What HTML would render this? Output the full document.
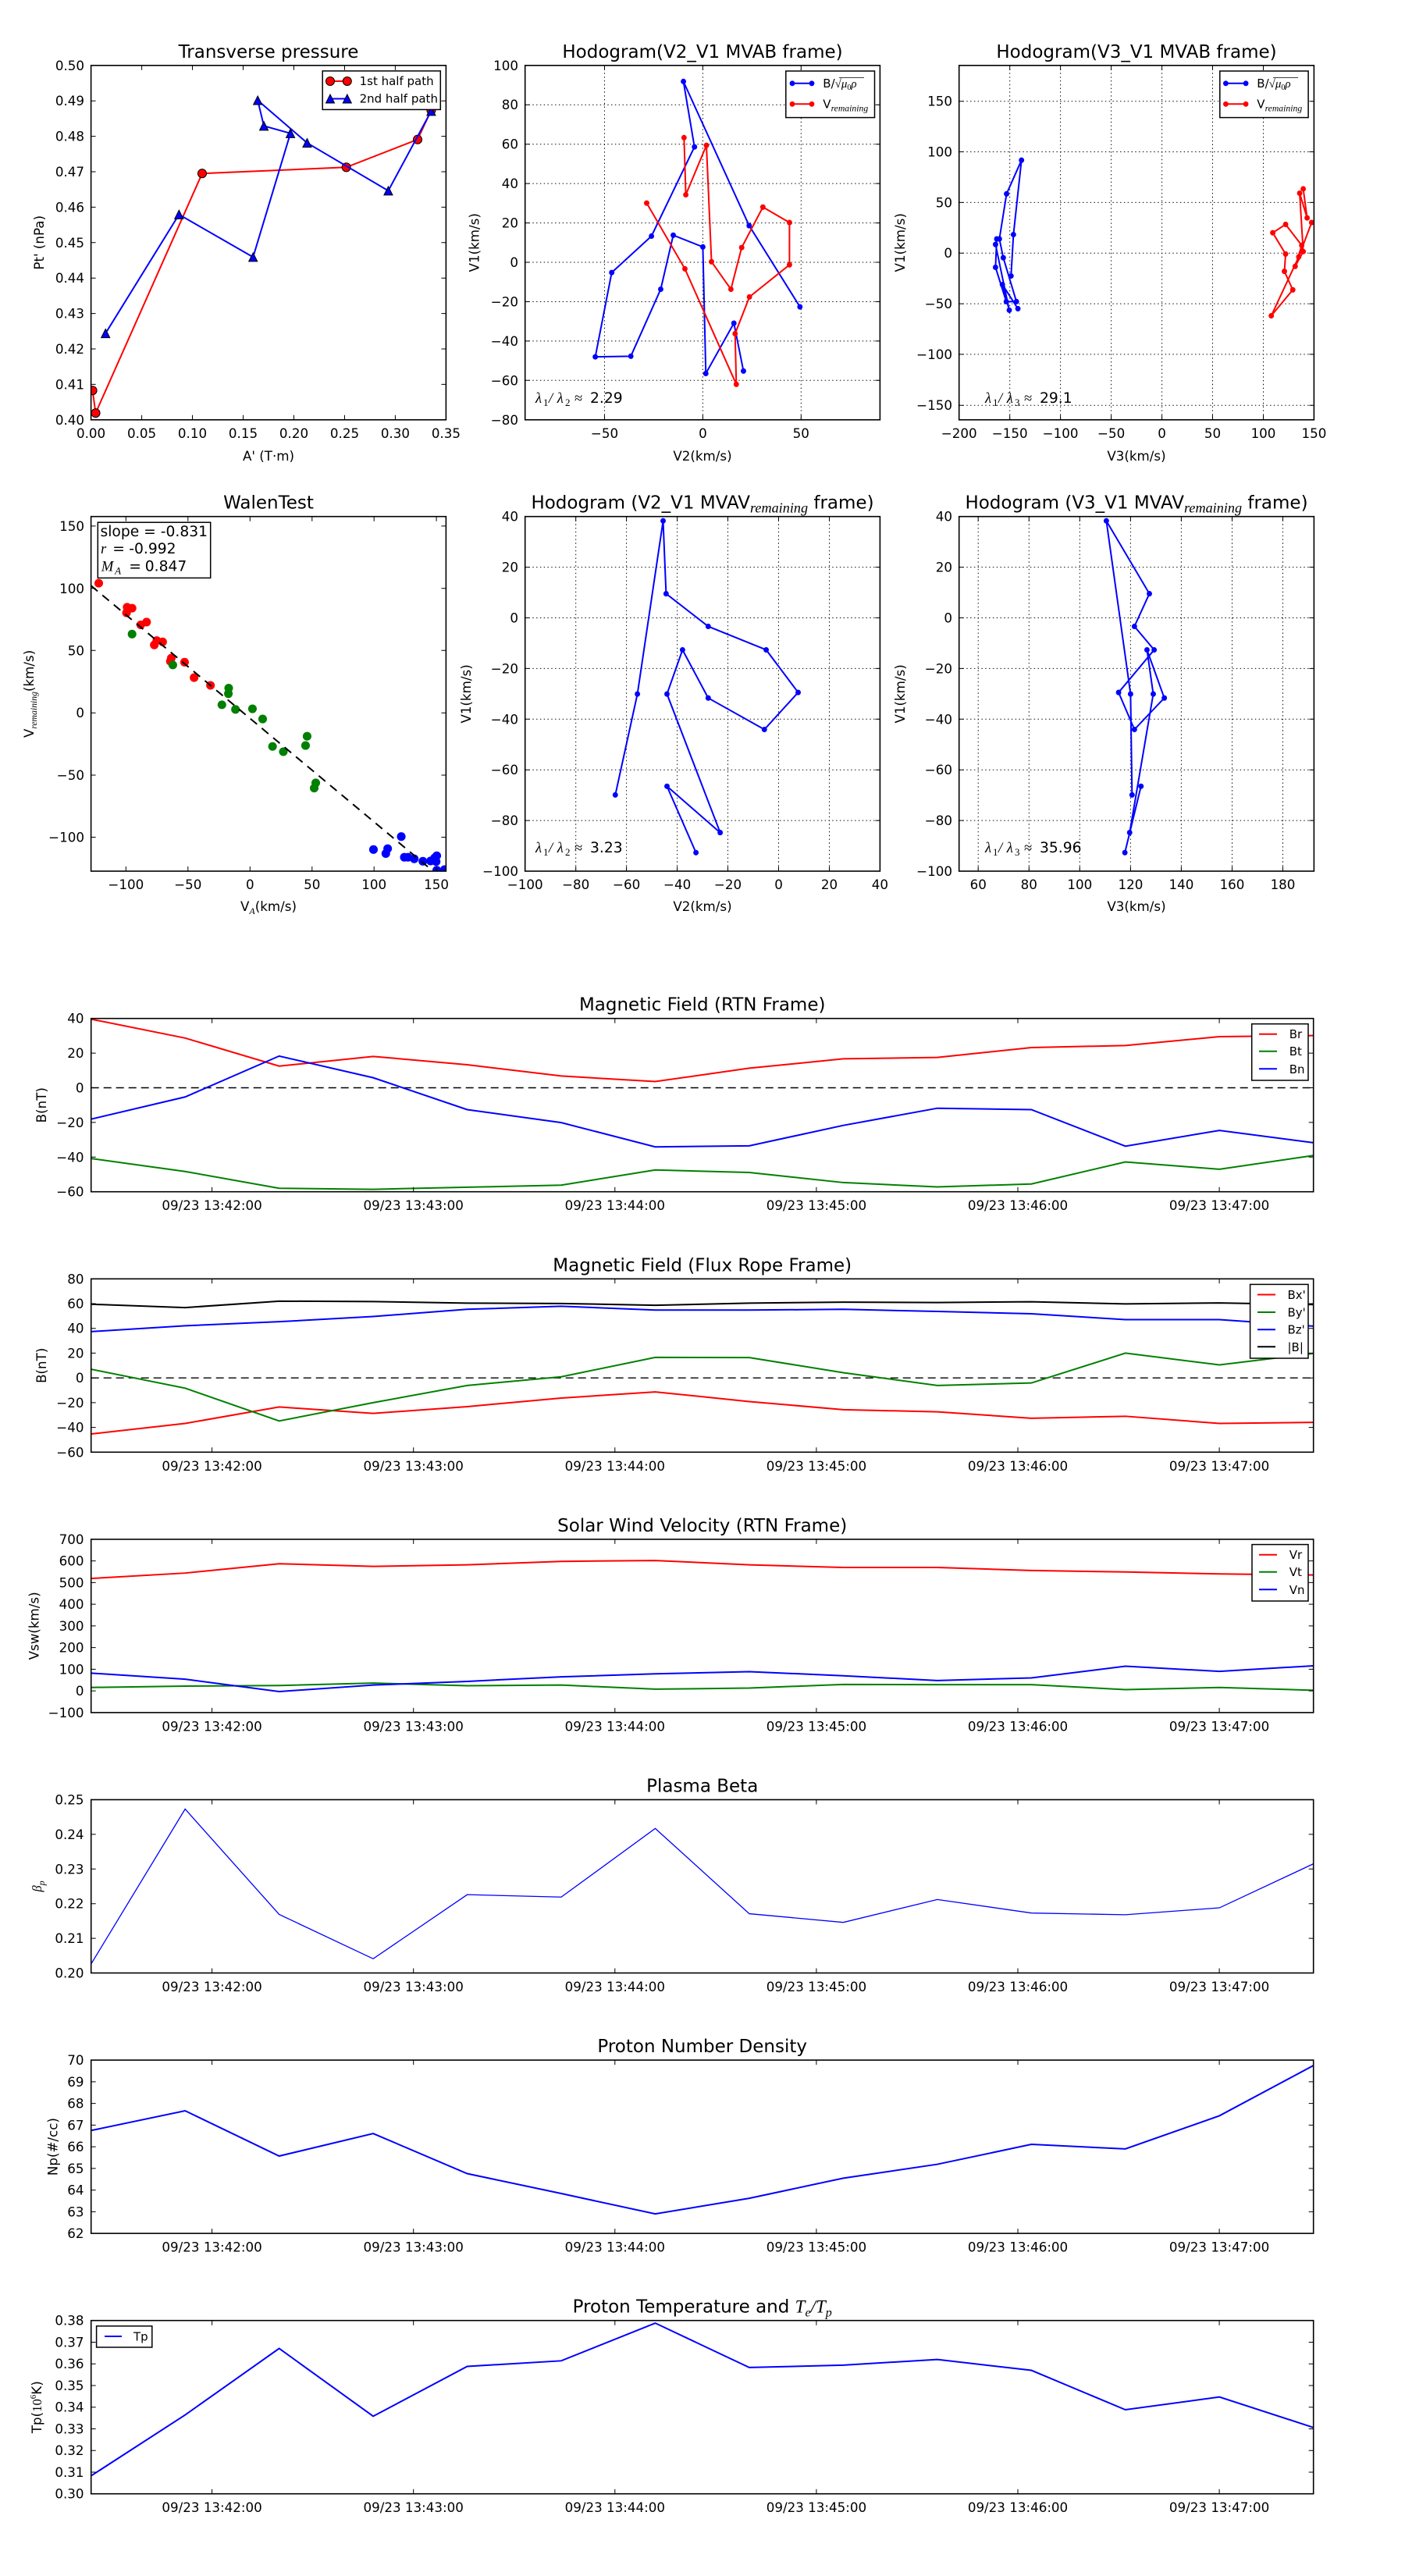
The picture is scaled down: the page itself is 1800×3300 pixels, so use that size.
<!DOCTYPE html>
<html><head><meta charset="utf-8"><title>chart</title>
<style>
html,body{margin:0;padding:0;background:#fff;}
svg{display:block;}
text{font-family:"DejaVu Sans","Liberation Sans",sans-serif;fill:#000;}
.t{font-size:23px;text-anchor:middle;}
.xl{font-size:16.7px;text-anchor:middle;}
.yl{font-size:16.7px;text-anchor:end;}
.lab{font-size:16.7px;text-anchor:middle;}
.lg{font-size:15px;}
.m{font-family:"Liberation Serif","DejaVu Serif",serif;font-style:italic;}
.r{font-family:"Liberation Serif","DejaVu Serif",serif;}
.in *{vector-effect:non-scaling-stroke;}
.sp{fill:none;stroke:#000;stroke-width:1.6;}
.tk{fill:none;stroke:#000;stroke-width:1;}
.gd{fill:none;stroke:#000;stroke-width:1;stroke-dasharray:1.4 3.4;}
.box{fill:#fff;stroke:#000;stroke-width:1.5;}
</style></head><body>
<svg width="1800" height="3300" viewBox="0 0 1800 3300" xmlns="http://www.w3.org/2000/svg">
<rect width="1800" height="3300" fill="#fff"/>

<!-- ============ Panel 1: Transverse pressure ============ -->
<text class="t" x="344" y="74">Transverse pressure</text>
<svg class="in" x="116.6" y="83.8" width="454.8" height="454" viewBox="295 212 1150 1148" preserveAspectRatio="none">
<polyline points="300,1265 310,1338 655,562 1122,542 1353,452 1397,357" fill="none" stroke="#f00" stroke-width="2"/>
<g fill="#f00" stroke="#000" stroke-width="1">
<circle cx="300" cy="1265" r="14"/><circle cx="310" cy="1338" r="14"/><circle cx="655" cy="562" r="14"/><circle cx="1122" cy="542" r="14"/><circle cx="1353" cy="452" r="14"/><circle cx="1397" cy="357" r="14"/>
</g>
<polyline points="342,1080 580,695 820,833 941,432 855,408 835,325 995,463 1258,618 1397,360" fill="none" stroke="#00f" stroke-width="2"/>
<g fill="#00f" stroke="#000" stroke-width="1">
<path d="M342,1066l14,28h-28z"/><path d="M580,681l14,28h-28z"/><path d="M820,819l14,28h-28z"/><path d="M941,418l14,28h-28z"/><path d="M855,394l14,28h-28z"/><path d="M835,311l14,28h-28z"/><path d="M995,449l14,28h-28z"/><path d="M1258,604l14,28h-28z"/><path d="M1397,346l14,28h-28z"/>
</g>
</svg>
<rect class="sp" x="116.6" y="83.8" width="454.8" height="454"/>
<path class="tk" d="M181.6 537.8v-6M246.5 537.8v-6M311.5 537.8v-6M376.5 537.8v-6M441.5 537.8v-6M506.4 537.8v-6M181.6 83.8v6M246.5 83.8v6M311.5 83.8v6M376.5 83.8v6M441.5 83.8v6M506.4 83.8v6M116.6 492.4h6M116.6 447h6M116.6 401.6h6M116.6 356.2h6M116.6 310.8h6M116.6 265.4h6M116.6 220h6M116.6 174.6h6M116.6 129.2h6M571.4 492.4h-6M571.4 447h-6M571.4 401.6h-6M571.4 356.2h-6M571.4 310.8h-6M571.4 265.4h-6M571.4 220h-6M571.4 174.6h-6M571.4 129.2h-6"/>
<g class="xl"><text x="116.6" y="561">0.00</text><text x="181.6" y="561">0.05</text><text x="246.5" y="561">0.10</text><text x="311.5" y="561">0.15</text><text x="376.5" y="561">0.20</text><text x="441.5" y="561">0.25</text><text x="506.4" y="561">0.30</text><text x="571.4" y="561">0.35</text></g>
<g class="yl"><text x="108" y="543.8">0.40</text><text x="108" y="498.4">0.41</text><text x="108" y="453">0.42</text><text x="108" y="407.6">0.43</text><text x="108" y="362.2">0.44</text><text x="108" y="316.8">0.45</text><text x="108" y="271.4">0.46</text><text x="108" y="226">0.47</text><text x="108" y="180.6">0.48</text><text x="108" y="135.2">0.49</text><text x="108" y="89.8">0.50</text></g>
<text class="lab" x="344" y="590">A' (T·m)</text>
<text class="lab" transform="translate(56,310.8) rotate(-90)">Pt' (nPa)</text>
<rect class="box" x="413.2" y="90.9" width="151.1" height="49.5"/>
<line x1="423" y1="104" x2="444.8" y2="104" stroke="#f00" stroke-width="2"/>
<circle cx="423" cy="104" r="5.5" fill="#f00" stroke="#000"/><circle cx="444.8" cy="104" r="5.5" fill="#f00" stroke="#000"/>
<text class="lg" x="460.6" y="109.2">1st half path</text>
<line x1="423" y1="126.5" x2="444.8" y2="126.5" stroke="#00f" stroke-width="2"/>
<path d="M423,121l5.5,11h-11z" fill="#00f" stroke="#000"/><path d="M444.8,121l5.5,11h-11z" fill="#00f" stroke="#000"/>
<text class="lg" x="460.6" y="131.7">2nd half path</text>

<!-- ============ Panel 2: Hodogram V2_V1 MVAB ============ -->
<text class="t" x="900" y="74">Hodogram(V2_V1 MVAB frame)</text>
<path class="gd" d="M774.5 83.8V537.8M900.4 83.8V537.8M1026.3 83.8V537.8M672.7 134.2H1127.4M672.7 184.7H1127.4M672.7 235.1H1127.4M672.7 285.6H1127.4M672.7 336H1127.4M672.7 386.5H1127.4M672.7 436.9H1127.4M672.7 487.3H1127.4"/>
<svg class="in" x="672.7" y="83.8" width="454.7" height="454" viewBox="190 212 1188 1148" preserveAspectRatio="none">
<polyline points="921,1202 889,1047 795,1210 785,800 686,762 644,937 544,1154 425,1156 480,883 613,765 757,476 720,264 940,731 1110,994" fill="none" stroke="#00f" stroke-width="2"/>
<g fill="#00f"><circle cx="921" cy="1202" r="9"/><circle cx="889" cy="1047" r="9"/><circle cx="795" cy="1210" r="9"/><circle cx="785" cy="800" r="9"/><circle cx="686" cy="762" r="9"/><circle cx="644" cy="937" r="9"/><circle cx="544" cy="1154" r="9"/><circle cx="425" cy="1156" r="9"/><circle cx="480" cy="883" r="9"/><circle cx="613" cy="765" r="9"/><circle cx="757" cy="476" r="9"/><circle cx="720" cy="264" r="9"/><circle cx="940" cy="731" r="9"/><circle cx="1110" cy="994" r="9"/></g>
<polyline points="722,446 728,631 797,471 814,848 879,937 915,802 986,671 1075,721 1075,858 941,962 893,1081 897,1245 725,871 597,658" fill="none" stroke="#f00" stroke-width="2"/>
<g fill="#f00"><circle cx="722" cy="446" r="9"/><circle cx="728" cy="631" r="9"/><circle cx="797" cy="471" r="9"/><circle cx="814" cy="848" r="9"/><circle cx="879" cy="937" r="9"/><circle cx="915" cy="802" r="9"/><circle cx="986" cy="671" r="9"/><circle cx="1075" cy="721" r="9"/><circle cx="1075" cy="858" r="9"/><circle cx="941" cy="962" r="9"/><circle cx="893" cy="1081" r="9"/><circle cx="897" cy="1245" r="9"/><circle cx="725" cy="871" r="9"/><circle cx="597" cy="658" r="9"/></g>
</svg>
<rect class="sp" x="672.7" y="83.8" width="454.7" height="454"/>
<path class="tk" d="M774.5 537.8v-6M900.4 537.8v-6M1026.3 537.8v-6M774.5 83.8v6M900.4 83.8v6M1026.3 83.8v6M672.7 134.2h6M672.7 184.7h6M672.7 235.1h6M672.7 285.6h6M672.7 336h6M672.7 386.5h6M672.7 436.9h6M672.7 487.3h6M1127.4 134.2h-6M1127.4 184.7h-6M1127.4 235.1h-6M1127.4 285.6h-6M1127.4 336h-6M1127.4 386.5h-6M1127.4 436.9h-6M1127.4 487.3h-6"/>
<g class="xl"><text x="774.5" y="561">−50</text><text x="900.4" y="561">0</text><text x="1026.3" y="561">50</text></g>
<g class="yl"><text x="664" y="89.8">100</text><text x="664" y="140.2">80</text><text x="664" y="190.7">60</text><text x="664" y="241.1">40</text><text x="664" y="291.6">20</text><text x="664" y="342">0</text><text x="664" y="392.5">−20</text><text x="664" y="442.9">−40</text><text x="664" y="493.3">−60</text><text x="664" y="543.8">−80</text></g>
<text class="lab" x="900" y="590">V2(km/s)</text>
<text class="lab" transform="translate(613.5,310.8) rotate(-90)">V1(km/s)</text>
<text y="516" font-size="18.7"><tspan x="686" class="m">λ</tspan><tspan x="696" dy="4" font-size="13" class="r">1</tspan><tspan x="703" dy="-4" class="m">/</tspan><tspan x="713.7" class="m">λ</tspan><tspan x="724" dy="4" font-size="13" class="r">2</tspan><tspan x="736" dy="-4" class="r">≈</tspan><tspan x="756">2.29</tspan></text>
<rect class="box" x="1006.8" y="91" width="113.7" height="59.6"/>
<line x1="1015" y1="106.8" x2="1040" y2="106.8" stroke="#00f" stroke-width="2"/>
<circle cx="1015" cy="106.8" r="3.4" fill="#00f"/><circle cx="1040" cy="106.8" r="3.4" fill="#00f"/>
<text class="lg" x="1054.3" y="112">B/<tspan class="r">√</tspan><tspan class="m">μ</tspan><tspan class="r" font-size="10" dy="3">0</tspan><tspan class="m" dy="-3">ρ</tspan></text>
<line x1="1075" y1="99.5" x2="1107" y2="99.5" stroke="#000" stroke-width="0.8"/>
<line x1="1015" y1="133.3" x2="1040" y2="133.3" stroke="#f00" stroke-width="2"/>
<circle cx="1015" cy="133.3" r="3.4" fill="#f00"/><circle cx="1040" cy="133.3" r="3.4" fill="#f00"/>
<text class="lg" x="1054.3" y="138.5">V<tspan class="m" font-size="11.7" dy="4">remaining</tspan></text>

<!-- ============ Panel 3: Hodogram V3_V1 MVAB ============ -->
<text class="t" x="1456" y="74">Hodogram(V3_V1 MVAB frame)</text>
<path class="gd" d="M1293.7 83.8V537.8M1358.6 83.8V537.8M1423.6 83.8V537.8M1488.6 83.8V537.8M1553.5 83.8V537.8M1618.5 83.8V537.8M1228.7 129.7H1683.4M1228.7 194.5H1683.4M1228.7 259.4H1683.4M1228.7 324.2H1683.4M1228.7 389.1H1683.4M1228.7 453.9H1683.4M1228.7 519.2H1683.4"/>
<svg class="in" x="1228.7" y="83.8" width="454.7" height="454" viewBox="75 212 1188 1148" preserveAspectRatio="none">
<polyline points="272,1000 220,922 243,1005 197,792 201,774 197,866 233,977 267,977 223,835 210,774 234,628 284,519 257,760 249,894" fill="none" stroke="#00f" stroke-width="2"/>
<g fill="#00f"><circle cx="272" cy="1000" r="9"/><circle cx="220" cy="922" r="9"/><circle cx="243" cy="1005" r="9"/><circle cx="197" cy="792" r="9"/><circle cx="201" cy="774" r="9"/><circle cx="197" cy="866" r="9"/><circle cx="233" cy="977" r="9"/><circle cx="267" cy="977" r="9"/><circle cx="223" cy="835" r="9"/><circle cx="210" cy="774" r="9"/><circle cx="234" cy="628" r="9"/><circle cx="284" cy="519" r="9"/><circle cx="257" cy="760" r="9"/><circle cx="249" cy="894" r="9"/></g>
<polyline points="1227,612 1240,706 1215,626 1227,815 1200,863 1222,795 1168,727 1125,754 1168,823 1164,879 1192,939 1120,1023 1212,832 1255,721" fill="none" stroke="#f00" stroke-width="2"/>
<g fill="#f00"><circle cx="1227" cy="612" r="9"/><circle cx="1240" cy="706" r="9"/><circle cx="1215" cy="626" r="9"/><circle cx="1227" cy="815" r="9"/><circle cx="1200" cy="863" r="9"/><circle cx="1222" cy="795" r="9"/><circle cx="1168" cy="727" r="9"/><circle cx="1125" cy="754" r="9"/><circle cx="1168" cy="823" r="9"/><circle cx="1164" cy="879" r="9"/><circle cx="1192" cy="939" r="9"/><circle cx="1120" cy="1023" r="9"/><circle cx="1212" cy="832" r="9"/><circle cx="1255" cy="721" r="9"/></g>
</svg>
<rect class="sp" x="1228.7" y="83.8" width="454.7" height="454"/>
<path class="tk" d="M1293.7 537.8v-6M1358.6 537.8v-6M1423.6 537.8v-6M1488.6 537.8v-6M1553.5 537.8v-6M1618.5 537.8v-6M1293.7 83.8v6M1358.6 83.8v6M1423.6 83.8v6M1488.6 83.8v6M1553.5 83.8v6M1618.5 83.8v6M1228.7 129.7h6M1228.7 194.5h6M1228.7 259.4h6M1228.7 324.2h6M1228.7 389.1h6M1228.7 453.9h6M1228.7 519.2h6M1683.4 129.7h-6M1683.4 194.5h-6M1683.4 259.4h-6M1683.4 324.2h-6M1683.4 389.1h-6M1683.4 453.9h-6M1683.4 519.2h-6"/>
<g class="xl"><text x="1228.7" y="561">−200</text><text x="1293.7" y="561">−150</text><text x="1358.6" y="561">−100</text><text x="1423.6" y="561">−50</text><text x="1488.6" y="561">0</text><text x="1553.5" y="561">50</text><text x="1618.5" y="561">100</text><text x="1683.4" y="561">150</text></g>
<g class="yl"><text x="1220" y="135.7">150</text><text x="1220" y="200.5">100</text><text x="1220" y="265.4">50</text><text x="1220" y="330.2">0</text><text x="1220" y="395.1">−50</text><text x="1220" y="459.9">−100</text><text x="1220" y="525.2">−150</text></g>
<text class="lab" x="1456" y="590">V3(km/s)</text>
<text class="lab" transform="translate(1159,310.8) rotate(-90)">V1(km/s)</text>
<text y="516" font-size="18.7"><tspan x="1262" class="m">λ</tspan><tspan x="1272" dy="4" font-size="13" class="r">1</tspan><tspan x="1279" dy="-4" class="m">/</tspan><tspan x="1289.7" class="m">λ</tspan><tspan x="1300" dy="4" font-size="13" class="r">3</tspan><tspan x="1312" dy="-4" class="r">≈</tspan><tspan x="1332">29.1</tspan></text>
<rect class="box" x="1562.8" y="91" width="113.3" height="59.6"/>
<line x1="1570.4" y1="106.8" x2="1596.1" y2="106.8" stroke="#00f" stroke-width="2"/>
<circle cx="1570.4" cy="106.8" r="3.4" fill="#00f"/><circle cx="1596.1" cy="106.8" r="3.4" fill="#00f"/>
<text class="lg" x="1610.3" y="112">B/<tspan class="r">√</tspan><tspan class="m">μ</tspan><tspan class="r" font-size="10" dy="3">0</tspan><tspan class="m" dy="-3">ρ</tspan></text>
<line x1="1631" y1="99.5" x2="1663" y2="99.5" stroke="#000" stroke-width="0.8"/>
<line x1="1570.4" y1="133.3" x2="1596.1" y2="133.3" stroke="#f00" stroke-width="2"/>
<circle cx="1570.4" cy="133.3" r="3.4" fill="#f00"/><circle cx="1596.1" cy="133.3" r="3.4" fill="#f00"/>
<text class="lg" x="1610.3" y="138.5">V<tspan class="m" font-size="11.7" dy="4">remaining</tspan></text>

<!-- ============ Panel 4: WalenTest ============ -->
<text class="t" x="344" y="651.5">WalenTest</text>
<svg class="in" x="116.6" y="661.7" width="454.8" height="454.3" viewBox="295 156 1150 1149" preserveAspectRatio="none">
<g fill="#f00"><circle cx="320" cy="372" r="14"/><circle cx="412" cy="450" r="14"/><circle cx="410" cy="468" r="14"/><circle cx="428" cy="453" r="14"/><circle cx="456" cy="507" r="14"/><circle cx="475" cy="498" r="14"/><circle cx="500" cy="572" r="14"/><circle cx="508" cy="558" r="14"/><circle cx="527" cy="562" r="14"/><circle cx="555" cy="615" r="14"/><circle cx="552" cy="625" r="14"/><circle cx="598" cy="628" r="14"/><circle cx="629" cy="678" r="14"/><circle cx="682" cy="703" r="14"/></g>
<g fill="#008000"><circle cx="428" cy="537" r="14"/><circle cx="560" cy="637" r="14"/><circle cx="719" cy="766" r="14"/><circle cx="741" cy="712" r="14"/><circle cx="740" cy="730" r="14"/><circle cx="763" cy="781" r="14"/><circle cx="818" cy="779" r="14"/><circle cx="851" cy="812" r="14"/><circle cx="883" cy="901" r="14"/><circle cx="918" cy="918" r="14"/><circle cx="990" cy="898" r="14"/><circle cx="995" cy="868" r="14"/><circle cx="1018" cy="1036" r="14"/><circle cx="1023" cy="1019" r="14"/></g>
<g fill="#00f"><circle cx="1210" cy="1235" r="14"/><circle cx="1250" cy="1248" r="14"/><circle cx="1256" cy="1232" r="14"/><circle cx="1300" cy="1193" r="14"/><circle cx="1310" cy="1260" r="14"/><circle cx="1322" cy="1260" r="14"/><circle cx="1342" cy="1265" r="14"/><circle cx="1370" cy="1273" r="14"/><circle cx="1395" cy="1272" r="14"/><circle cx="1408" cy="1262" r="14"/><circle cx="1413" cy="1274" r="14"/><circle cx="1415" cy="1255" r="14"/><circle cx="1415" cy="1302" r="14"/><circle cx="1440" cy="1300" r="14"/></g>
</svg>
<line x1="116.6" y1="750.3" x2="549.4" y2="1111.5" stroke="#000" stroke-width="2" stroke-dasharray="11 8"/>
<rect class="sp" x="116.6" y="661.7" width="454.8" height="454.3"/>
<path class="tk" d="M161.3 1116v-6M240.8 1116v-6M320.3 1116v-6M399.8 1116v-6M479.2 1116v-6M559.1 1116v-6M161.3 661.7v6M240.8 661.7v6M320.3 661.7v6M399.8 661.7v6M479.2 661.7v6M559.1 661.7v6M116.6 673.9h6M116.6 753.8h6M116.6 833.3h6M116.6 913.2h6M116.6 993h6M116.6 1072.5h6M571.4 673.9h-6M571.4 753.8h-6M571.4 833.3h-6M571.4 913.2h-6M571.4 993h-6M571.4 1072.5h-6"/>
<g class="xl"><text x="161.3" y="1139">−100</text><text x="240.8" y="1139">−50</text><text x="320.3" y="1139">0</text><text x="399.8" y="1139">50</text><text x="479.2" y="1139">100</text><text x="559.1" y="1139">150</text></g>
<g class="yl"><text x="108" y="679.9">150</text><text x="108" y="759.8">100</text><text x="108" y="839.3">50</text><text x="108" y="919.2">0</text><text x="108" y="999">−50</text><text x="108" y="1078.5">−100</text></g>
<text class="lab" x="344" y="1167">V<tspan class="m" font-size="12" dy="4">A</tspan><tspan dy="-4">(km/s)</tspan></text>
<text class="lab" transform="translate(43,888.9) rotate(-90)">V<tspan class="m" font-size="11.7" dy="4">remaining</tspan><tspan dy="-4">(km/s)</tspan></text>
<rect class="box" x="125.3" y="669.2" width="144.4" height="71.2"/>
<text x="128.5" y="687" font-size="18.7">slope = -0.831</text>
<text y="709.1" font-size="18.7"><tspan x="129" class="m">r</tspan><tspan x="144.3">=</tspan><tspan x="165.3">-0.992</tspan></text>
<text y="731.3" font-size="18.7"><tspan x="129.7" class="m">M</tspan><tspan x="147.1" class="m" font-size="13" dy="4">A</tspan><tspan x="165.3" dy="-4">=</tspan><tspan x="185.8">0.847</tspan></text>

<!-- ============ Panel 5: Hodogram V2_V1 MVAV ============ -->
<text class="t" x="900" y="651.5">Hodogram (V2_V1 MVAV<tspan class="m" font-size="18.2" dy="5">remaining</tspan><tspan dy="-5"> frame)</tspan></text>
<path class="gd" d="M737.7 661.7V1116M802.6 661.7V1116M867.6 661.7V1116M932.5 661.7V1116M997.5 661.7V1116M1062.5 661.7V1116M672.7 726.6H1127.4M672.7 791.5H1127.4M672.7 856.4H1127.4M672.7 921.3H1127.4M672.7 986.2H1127.4M672.7 1051.1H1127.4"/>
<svg class="in" x="672.7" y="661.7" width="454.7" height="454.3" viewBox="190 156 1188 1149" preserveAspectRatio="none">
<polyline points="492,1058 566,731 652,170 662,406 803,512 997,588 1104,726 991,846 803,744 717,588 665,731 843,1180 665,1030 762,1245" fill="none" stroke="#00f" stroke-width="2"/>
<g fill="#00f"><circle cx="492" cy="1058" r="9"/><circle cx="566" cy="731" r="9"/><circle cx="652" cy="170" r="9"/><circle cx="662" cy="406" r="9"/><circle cx="803" cy="512" r="9"/><circle cx="997" cy="588" r="9"/><circle cx="1104" cy="726" r="9"/><circle cx="991" cy="846" r="9"/><circle cx="803" cy="744" r="9"/><circle cx="717" cy="588" r="9"/><circle cx="665" cy="731" r="9"/><circle cx="843" cy="1180" r="9"/><circle cx="665" cy="1030" r="9"/><circle cx="762" cy="1245" r="9"/></g>
</svg>
<rect class="sp" x="672.7" y="661.7" width="454.7" height="454.3"/>
<path class="tk" d="M737.7 1116v-6M802.6 1116v-6M867.6 1116v-6M932.5 1116v-6M997.5 1116v-6M1062.5 1116v-6M737.7 661.7v6M802.6 661.7v6M867.6 661.7v6M932.5 661.7v6M997.5 661.7v6M1062.5 661.7v6M672.7 726.6h6M672.7 791.5h6M672.7 856.4h6M672.7 921.3h6M672.7 986.2h6M672.7 1051.1h6M1127.4 726.6h-6M1127.4 791.5h-6M1127.4 856.4h-6M1127.4 921.3h-6M1127.4 986.2h-6M1127.4 1051.1h-6"/>
<g class="xl"><text x="672.7" y="1139">−100</text><text x="737.7" y="1139">−80</text><text x="802.6" y="1139">−60</text><text x="867.6" y="1139">−40</text><text x="932.5" y="1139">−20</text><text x="997.5" y="1139">0</text><text x="1062.5" y="1139">20</text><text x="1127.4" y="1139">40</text></g>
<g class="yl"><text x="664" y="667.7">40</text><text x="664" y="732.6">20</text><text x="664" y="797.5">0</text><text x="664" y="862.4">−20</text><text x="664" y="927.3">−40</text><text x="664" y="992.2">−60</text><text x="664" y="1057.1">−80</text><text x="664" y="1122">−100</text></g>
<text class="lab" x="900" y="1167">V2(km/s)</text>
<text class="lab" transform="translate(603,888.9) rotate(-90)">V1(km/s)</text>
<text y="1092" font-size="18.7"><tspan x="686" class="m">λ</tspan><tspan x="696" dy="4" font-size="13" class="r">1</tspan><tspan x="703" dy="-4" class="m">/</tspan><tspan x="713.7" class="m">λ</tspan><tspan x="724" dy="4" font-size="13" class="r">2</tspan><tspan x="736" dy="-4" class="r">≈</tspan><tspan x="756">3.23</tspan></text>

<!-- ============ Panel 6: Hodogram V3_V1 MVAV ============ -->
<text class="t" x="1456" y="651.5">Hodogram (V3_V1 MVAV<tspan class="m" font-size="18.2" dy="5">remaining</tspan><tspan dy="-5"> frame)</tspan></text>
<path class="gd" d="M1253.2 661.7V1116M1318.3 661.7V1116M1383.3 661.7V1116M1448.4 661.7V1116M1513.4 661.7V1116M1578.5 661.7V1116M1643.5 661.7V1116M1228.7 726.6H1683.4M1228.7 791.5H1683.4M1228.7 856.4H1683.4M1228.7 921.3H1683.4M1228.7 986.2H1683.4M1228.7 1051.1H1683.4"/>
<svg class="in" x="1228.7" y="661.7" width="454.7" height="454.3" viewBox="75 156 1188 1149" preserveAspectRatio="none">
<polyline points="654,1058 649,731 568,170 712,406 662,512 728,588 609,726 662,846 762,744 704,588 725,731 646,1180 684,1030 630,1245" fill="none" stroke="#00f" stroke-width="2"/>
<g fill="#00f"><circle cx="654" cy="1058" r="9"/><circle cx="649" cy="731" r="9"/><circle cx="568" cy="170" r="9"/><circle cx="712" cy="406" r="9"/><circle cx="662" cy="512" r="9"/><circle cx="728" cy="588" r="9"/><circle cx="609" cy="726" r="9"/><circle cx="662" cy="846" r="9"/><circle cx="762" cy="744" r="9"/><circle cx="704" cy="588" r="9"/><circle cx="725" cy="731" r="9"/><circle cx="646" cy="1180" r="9"/><circle cx="684" cy="1030" r="9"/><circle cx="630" cy="1245" r="9"/></g>
</svg>
<rect class="sp" x="1228.7" y="661.7" width="454.7" height="454.3"/>
<path class="tk" d="M1253.2 1116v-6M1318.3 1116v-6M1383.3 1116v-6M1448.4 1116v-6M1513.4 1116v-6M1578.5 1116v-6M1643.5 1116v-6M1253.2 661.7v6M1318.3 661.7v6M1383.3 661.7v6M1448.4 661.7v6M1513.4 661.7v6M1578.5 661.7v6M1643.5 661.7v6M1228.7 726.6h6M1228.7 791.5h6M1228.7 856.4h6M1228.7 921.3h6M1228.7 986.2h6M1228.7 1051.1h6M1683.4 726.6h-6M1683.4 791.5h-6M1683.4 856.4h-6M1683.4 921.3h-6M1683.4 986.2h-6M1683.4 1051.1h-6"/>
<g class="xl"><text x="1253.2" y="1139">60</text><text x="1318.3" y="1139">80</text><text x="1383.3" y="1139">100</text><text x="1448.4" y="1139">120</text><text x="1513.4" y="1139">140</text><text x="1578.5" y="1139">160</text><text x="1643.5" y="1139">180</text></g>
<g class="yl"><text x="1220" y="667.7">40</text><text x="1220" y="732.6">20</text><text x="1220" y="797.5">0</text><text x="1220" y="862.4">−20</text><text x="1220" y="927.3">−40</text><text x="1220" y="992.2">−60</text><text x="1220" y="1057.1">−80</text><text x="1220" y="1122">−100</text></g>
<text class="lab" x="1456" y="1167">V3(km/s)</text>
<text class="lab" transform="translate(1159,888.9) rotate(-90)">V1(km/s)</text>
<text y="1092" font-size="18.7"><tspan x="1262" class="m">λ</tspan><tspan x="1272" dy="4" font-size="13" class="r">1</tspan><tspan x="1279" dy="-4" class="m">/</tspan><tspan x="1289.7" class="m">λ</tspan><tspan x="1300" dy="4" font-size="13" class="r">3</tspan><tspan x="1312" dy="-4" class="r">≈</tspan><tspan x="1332">35.96</tspan></text>

<!-- ============ Time series 1: Magnetic Field RTN ============ -->
<g transform="translate(0,1304.7)">
<text class="t" x="899.7" y="-10">Magnetic Field (RTN Frame)</text>
<line x1="116.7" y1="88.8" x2="1682.7" y2="88.8" stroke="#000" stroke-width="1.4" stroke-dasharray="10 6"/>
<svg class="in" x="116.7" y="0" width="1566" height="222" viewBox="0 -40 13 100" preserveAspectRatio="none">
<polyline fill="none" stroke="#f00" stroke-width="2" points="0,-39.6 1,-28.7 2,-12.5 3,-18.1 4,-13.3 5,-6.8 6,-3.6 7,-11.3 8,-16.7 9,-17.5 10,-23.2 11,-24.4 12,-29.5 13,-30.1"/>
<polyline fill="none" stroke="#008000" stroke-width="2" points="0,40.8 1,48.3 2,58 3,58.6 4,57.4 5,56.2 6,47.4 7,48.9 8,54.7 9,57.2 10,55.5 11,42.8 12,47 13,39.1"/>
<polyline fill="none" stroke="#00f" stroke-width="2" points="0,18.1 1,5.3 2,-18.3 3,-5.8 4,12.6 5,20.1 6,34.1 7,33.5 8,21.7 9,11.8 10,12.6 11,33.7 12,24.6 13,31.7"/>
</svg>
<rect class="sp" x="116.7" y="0" width="1566" height="222"/>
<path class="tk" d="M271.6 222v-6M529.7 222v-6M787.8 222v-6M1045.9 222v-6M1304 222v-6M1562.1 222v-6M271.6 0v6M529.7 0v6M787.8 0v6M1045.9 0v6M1304 0v6M1562.1 0v6M116.7 44.4h6M116.7 88.8h6M116.7 133.2h6M116.7 177.6h6M1682.7 44.4h-6M1682.7 88.8h-6M1682.7 133.2h-6M1682.7 177.6h-6"/>
<g class="xl"><text x="271.6" y="245.5">09/23 13:42:00</text><text x="529.7" y="245.5">09/23 13:43:00</text><text x="787.8" y="245.5">09/23 13:44:00</text><text x="1045.9" y="245.5">09/23 13:45:00</text><text x="1304" y="245.5">09/23 13:46:00</text><text x="1562.1" y="245.5">09/23 13:47:00</text></g>
<g class="yl"><text x="107.5" y="6">40</text><text x="107.5" y="50.4">20</text><text x="107.5" y="94.8">0</text><text x="107.5" y="139.2">−20</text><text x="107.5" y="183.6">−40</text><text x="107.5" y="228">−60</text></g>
<text class="lab" transform="translate(59,111) rotate(-90)">B(nT)</text>
<rect class="box" x="1603.7" y="7" width="72.3" height="72.3"/>
<line x1="1613" y1="20" x2="1636" y2="20" stroke="#f00" stroke-width="2"/><text class="lg" x="1651.7" y="25.5">Br</text>
<line x1="1613" y1="42" x2="1636" y2="42" stroke="#008000" stroke-width="2"/><text class="lg" x="1651.7" y="47.5">Bt</text>
<line x1="1613" y1="64.6" x2="1636" y2="64.6" stroke="#00f" stroke-width="2"/><text class="lg" x="1651.7" y="70.1">Bn</text>
</g>

<!-- ============ Time series 2: Flux Rope ============ -->
<g transform="translate(0,1638.3)">
<text class="t" x="899.7" y="-10">Magnetic Field (Flux Rope Frame)</text>
<line x1="116.7" y1="126.9" x2="1682.7" y2="126.9" stroke="#000" stroke-width="1.4" stroke-dasharray="10 6"/>
<svg class="in" x="116.7" y="0" width="1566" height="222" viewBox="0 -80 13 140" preserveAspectRatio="none">
<polyline fill="none" stroke="#f00" stroke-width="2" points="0,45.3 1,36.8 2,23.5 3,28.7 4,23.2 5,16.3 6,11.3 7,19.1 8,25.7 9,27.4 10,32.6 11,31 12,36.8 13,35.9"/>
<polyline fill="none" stroke="#008000" stroke-width="2" points="0,-7 1,8.3 2,34.8 3,20 4,6.1 5,-0.9 6,-16.6 7,-16.4 8,-4.2 9,6.1 10,4.1 11,-20 12,-10.5 13,-19.7"/>
<polyline fill="none" stroke="#00f" stroke-width="2" points="0,-37.4 1,-42.1 2,-45.4 3,-49.6 4,-55.4 5,-57.9 6,-54.8 7,-54.8 8,-55.4 9,-53.7 10,-51.8 11,-47.1 12,-47.1 13,-41.8"/>
<polyline fill="none" stroke="#000" stroke-width="2" points="0,-59.5 1,-56.8 2,-62 3,-61.7 4,-60.4 5,-60.1 6,-58.7 7,-60.4 8,-61.2 9,-60.9 10,-61.5 11,-59.8 12,-60.6 13,-59.2"/>
</svg>
<rect class="sp" x="116.7" y="0" width="1566" height="222"/>
<path class="tk" d="M271.6 222v-6M529.7 222v-6M787.8 222v-6M1045.9 222v-6M1304 222v-6M1562.1 222v-6M271.6 0v6M529.7 0v6M787.8 0v6M1045.9 0v6M1304 0v6M1562.1 0v6M116.7 31.7h6M116.7 63.4h6M116.7 95.1h6M116.7 126.9h6M116.7 158.6h6M116.7 190.3h6M1682.7 31.7h-6M1682.7 63.4h-6M1682.7 95.1h-6M1682.7 126.9h-6M1682.7 158.6h-6M1682.7 190.3h-6"/>
<g class="xl"><text x="271.6" y="245.5">09/23 13:42:00</text><text x="529.7" y="245.5">09/23 13:43:00</text><text x="787.8" y="245.5">09/23 13:44:00</text><text x="1045.9" y="245.5">09/23 13:45:00</text><text x="1304" y="245.5">09/23 13:46:00</text><text x="1562.1" y="245.5">09/23 13:47:00</text></g>
<g class="yl"><text x="107.5" y="6">80</text><text x="107.5" y="37.7">60</text><text x="107.5" y="69.4">40</text><text x="107.5" y="101.1">20</text><text x="107.5" y="132.9">0</text><text x="107.5" y="164.6">−20</text><text x="107.5" y="196.3">−40</text><text x="107.5" y="228">−60</text></g>
<text class="lab" transform="translate(59,111) rotate(-90)">B(nT)</text>
<rect class="box" x="1601.6" y="7.1" width="74.4" height="94.6"/>
<line x1="1611" y1="20.2" x2="1634" y2="20.2" stroke="#f00" stroke-width="2"/><text class="lg" x="1649.5" y="25.7">Bx'</text>
<line x1="1611" y1="42.7" x2="1634" y2="42.7" stroke="#008000" stroke-width="2"/><text class="lg" x="1649.5" y="48.2">By'</text>
<line x1="1611" y1="64.9" x2="1634" y2="64.9" stroke="#00f" stroke-width="2"/><text class="lg" x="1649.5" y="70.4">Bz'</text>
<line x1="1611" y1="87" x2="1634" y2="87" stroke="#000" stroke-width="2"/><text class="lg" x="1649.5" y="92.5">|B|</text>
</g>

<!-- ============ Time series 3: Solar Wind ============ -->
<g transform="translate(0,1971.9)">
<text class="t" x="899.7" y="-10">Solar Wind Velocity (RTN Frame)</text>
<svg class="in" x="116.7" y="0" width="1566" height="222" viewBox="0 -700 13 800" preserveAspectRatio="none">
<polyline fill="none" stroke="#f00" stroke-width="2" points="0,-519 1,-544 2,-587 3,-575 4,-582 5,-598 6,-602 7,-582 8,-570 9,-570 10,-556 11,-549 12,-540 13,-535"/>
<polyline fill="none" stroke="#008000" stroke-width="2" points="0,-16 1,-22 2,-25 3,-36 4,-24 5,-27 6,-8 7,-13 8,-30 9,-29 10,-29 11,-6 12,-16 13,-3"/>
<polyline fill="none" stroke="#00f" stroke-width="2" points="0,-82 1,-54 2,3 3,-27 4,-44 5,-65 6,-79 7,-89 8,-70 9,-48 10,-60 11,-114 12,-90 13,-116"/>
</svg>
<rect class="sp" x="116.7" y="0" width="1566" height="222"/>
<path class="tk" d="M271.6 222v-6M529.7 222v-6M787.8 222v-6M1045.9 222v-6M1304 222v-6M1562.1 222v-6M271.6 0v6M529.7 0v6M787.8 0v6M1045.9 0v6M1304 0v6M1562.1 0v6M116.7 27.75h6M116.7 55.5h6M116.7 83.25h6M116.7 111h6M116.7 138.75h6M116.7 166.5h6M116.7 194.25h6M1682.7 27.75h-6M1682.7 55.5h-6M1682.7 83.25h-6M1682.7 111h-6M1682.7 138.75h-6M1682.7 166.5h-6M1682.7 194.25h-6"/>
<g class="xl"><text x="271.6" y="245.5">09/23 13:42:00</text><text x="529.7" y="245.5">09/23 13:43:00</text><text x="787.8" y="245.5">09/23 13:44:00</text><text x="1045.9" y="245.5">09/23 13:45:00</text><text x="1304" y="245.5">09/23 13:46:00</text><text x="1562.1" y="245.5">09/23 13:47:00</text></g>
<g class="yl"><text x="107.5" y="6">700</text><text x="107.5" y="33.75">600</text><text x="107.5" y="61.5">500</text><text x="107.5" y="89.25">400</text><text x="107.5" y="117">300</text><text x="107.5" y="144.75">200</text><text x="107.5" y="172.5">100</text><text x="107.5" y="200.25">0</text><text x="107.5" y="228">−100</text></g>
<text class="lab" transform="translate(49.5,111) rotate(-90)">Vsw(km/s)</text>
<rect class="box" x="1604" y="6.7" width="72" height="72.4"/>
<line x1="1613" y1="19.8" x2="1636" y2="19.8" stroke="#f00" stroke-width="2"/><text class="lg" x="1651.7" y="25.3">Vr</text>
<line x1="1613" y1="41.8" x2="1636" y2="41.8" stroke="#008000" stroke-width="2"/><text class="lg" x="1651.7" y="47.3">Vt</text>
<line x1="1613" y1="64.4" x2="1636" y2="64.4" stroke="#00f" stroke-width="2"/><text class="lg" x="1651.7" y="69.9">Vn</text>
</g>

<!-- ============ Time series 4: Plasma Beta ============ -->
<g transform="translate(0,2305.5)">
<text class="t" x="899.7" y="-10">Plasma Beta</text>
<svg class="in" x="116.7" y="0" width="1566" height="222" viewBox="0 -250 13 50" preserveAspectRatio="none">
<polyline fill="none" stroke="#00f" stroke-width="1.3" points="0,-202.6 1,-247.3 2,-216.9 3,-204.1 4,-222.6 5,-221.9 6,-241.7 7,-217.1 8,-214.6 9,-221.2 10,-217.3 11,-216.8 12,-218.8 13,-231.5"/>
</svg>
<rect class="sp" x="116.7" y="0" width="1566" height="222"/>
<path class="tk" d="M271.6 222v-6M529.7 222v-6M787.8 222v-6M1045.9 222v-6M1304 222v-6M1562.1 222v-6M271.6 0v6M529.7 0v6M787.8 0v6M1045.9 0v6M1304 0v6M1562.1 0v6M116.7 44.4h6M116.7 88.8h6M116.7 133.2h6M116.7 177.6h6M1682.7 44.4h-6M1682.7 88.8h-6M1682.7 133.2h-6M1682.7 177.6h-6"/>
<g class="xl"><text x="271.6" y="245.5">09/23 13:42:00</text><text x="529.7" y="245.5">09/23 13:43:00</text><text x="787.8" y="245.5">09/23 13:44:00</text><text x="1045.9" y="245.5">09/23 13:45:00</text><text x="1304" y="245.5">09/23 13:46:00</text><text x="1562.1" y="245.5">09/23 13:47:00</text></g>
<g class="yl"><text x="107.5" y="6">0.25</text><text x="107.5" y="50.4">0.24</text><text x="107.5" y="94.8">0.23</text><text x="107.5" y="139.2">0.22</text><text x="107.5" y="183.6">0.21</text><text x="107.5" y="228">0.20</text></g>
<text class="lab" transform="translate(53,111) rotate(-90)"><tspan class="m">β</tspan><tspan class="m" font-size="12" dy="4">p</tspan></text>
</g>

<!-- ============ Time series 5: Proton Number Density ============ -->
<g transform="translate(0,2639.1)">
<text class="t" x="899.7" y="-10">Proton Number Density</text>
<svg class="in" x="116.7" y="0" width="1566" height="222" viewBox="0 -70 13 8" preserveAspectRatio="none">
<polyline fill="none" stroke="#00f" stroke-width="2" points="0,-66.75 1,-67.66 2,-65.57 3,-66.61 4,-64.76 5,-63.84 6,-62.9 7,-63.62 8,-64.55 9,-65.19 10,-66.11 11,-65.9 12,-67.43 13,-69.75"/>
</svg>
<rect class="sp" x="116.7" y="0" width="1566" height="222"/>
<path class="tk" d="M271.6 222v-6M529.7 222v-6M787.8 222v-6M1045.9 222v-6M1304 222v-6M1562.1 222v-6M271.6 0v6M529.7 0v6M787.8 0v6M1045.9 0v6M1304 0v6M1562.1 0v6M116.7 27.75h6M116.7 55.5h6M116.7 83.25h6M116.7 111h6M116.7 138.75h6M116.7 166.5h6M116.7 194.25h6M1682.7 27.75h-6M1682.7 55.5h-6M1682.7 83.25h-6M1682.7 111h-6M1682.7 138.75h-6M1682.7 166.5h-6M1682.7 194.25h-6"/>
<g class="xl"><text x="271.6" y="245.5">09/23 13:42:00</text><text x="529.7" y="245.5">09/23 13:43:00</text><text x="787.8" y="245.5">09/23 13:44:00</text><text x="1045.9" y="245.5">09/23 13:45:00</text><text x="1304" y="245.5">09/23 13:46:00</text><text x="1562.1" y="245.5">09/23 13:47:00</text></g>
<g class="yl"><text x="107.5" y="6">70</text><text x="107.5" y="33.75">69</text><text x="107.5" y="61.5">68</text><text x="107.5" y="89.25">67</text><text x="107.5" y="117">66</text><text x="107.5" y="144.75">65</text><text x="107.5" y="172.5">64</text><text x="107.5" y="200.25">63</text><text x="107.5" y="228">62</text></g>
<text class="lab" transform="translate(73.5,111) rotate(-90)">Np(#/cc)</text>
</g>

<!-- ============ Time series 6: Proton Temperature ============ -->
<g transform="translate(0,2972.7)">
<text class="t" x="899.7" y="-10">Proton Temperature and <tspan class="m">T</tspan><tspan class="m" font-size="16" dy="5">e</tspan><tspan class="m" dy="-5">/</tspan><tspan class="m">T</tspan><tspan class="m" font-size="16" dy="5">p</tspan></text>
<svg class="in" x="116.7" y="0" width="1566" height="222" viewBox="0 -380 13 80" preserveAspectRatio="none">
<polyline fill="none" stroke="#00f" stroke-width="2" points="0,-308.3 1,-336.4 2,-367.1 3,-335.8 4,-358.8 5,-361.4 6,-378.8 7,-358.3 8,-359.4 9,-362 10,-357 11,-338.8 12,-344.7 13,-330.6"/>
</svg>
<rect class="sp" x="116.7" y="0" width="1566" height="222"/>
<path class="tk" d="M271.6 222v-6M529.7 222v-6M787.8 222v-6M1045.9 222v-6M1304 222v-6M1562.1 222v-6M271.6 0v6M529.7 0v6M787.8 0v6M1045.9 0v6M1304 0v6M1562.1 0v6M116.7 27.75h6M116.7 55.5h6M116.7 83.25h6M116.7 111h6M116.7 138.75h6M116.7 166.5h6M116.7 194.25h6M1682.7 27.75h-6M1682.7 55.5h-6M1682.7 83.25h-6M1682.7 111h-6M1682.7 138.75h-6M1682.7 166.5h-6M1682.7 194.25h-6"/>
<g class="xl"><text x="271.6" y="245.5">09/23 13:42:00</text><text x="529.7" y="245.5">09/23 13:43:00</text><text x="787.8" y="245.5">09/23 13:44:00</text><text x="1045.9" y="245.5">09/23 13:45:00</text><text x="1304" y="245.5">09/23 13:46:00</text><text x="1562.1" y="245.5">09/23 13:47:00</text></g>
<g class="yl"><text x="107.5" y="6">0.38</text><text x="107.5" y="33.75">0.37</text><text x="107.5" y="61.5">0.36</text><text x="107.5" y="89.25">0.35</text><text x="107.5" y="117">0.34</text><text x="107.5" y="144.75">0.33</text><text x="107.5" y="172.5">0.32</text><text x="107.5" y="200.25">0.31</text><text x="107.5" y="228">0.30</text></g>
<text class="lab" transform="translate(53,111) rotate(-90)">Tp(<tspan class="r">10</tspan><tspan class="r" font-size="11" dy="-7">6</tspan><tspan dy="7">K)</tspan></text>
<rect class="box" x="123.6" y="7.1" width="71.2" height="27.2"/>
<line x1="134" y1="20.3" x2="156" y2="20.3" stroke="#00f" stroke-width="2"/><text class="lg" x="171" y="25.8">Tp</text>
</g>

</svg>
</body></html>
